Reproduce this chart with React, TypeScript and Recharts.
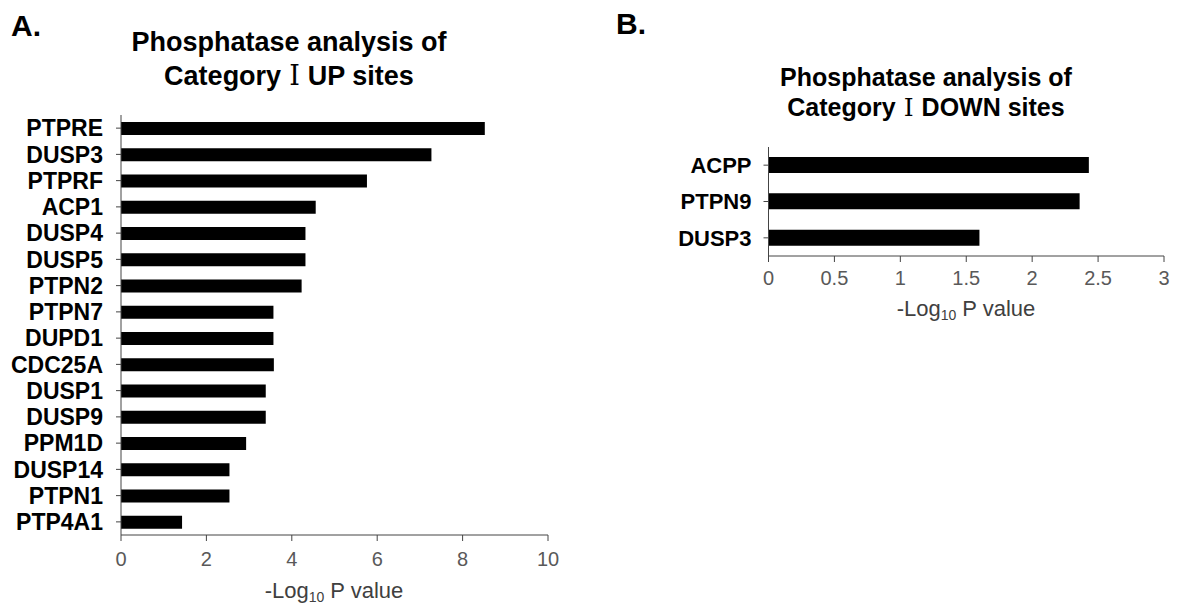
import React from 'react';
import { BarChart, Bar, XAxis, YAxis } from 'recharts';

// Panel A: Category I UP sites
const upGenes = [
  'PTPRE', 'DUSP3', 'PTPRF', 'ACP1', 'DUSP4', 'DUSP5', 'PTPN2', 'PTPN7',
  'DUPD1', 'CDC25A', 'DUSP1', 'DUSP9', 'PPM1D', 'DUSP14', 'PTPN1', 'PTP4A1',
];
const upValues = [8.52, 7.27, 5.76, 4.56, 4.32, 4.32, 4.23, 3.57, 3.57, 3.58, 3.39, 3.39, 2.93, 2.54, 2.54, 1.43];
const upTicks = [0, 2, 4, 6, 8, 10];

// Panel B: Category I DOWN sites
const downGenes = ['ACPP', 'PTPN9', 'DUSP3'];
const downValues = [2.43, 2.36, 1.6];
const downTicks = [0, 0.5, 1, 1.5, 2, 2.5, 3];

const FONT = '"Liberation Sans", Arial, sans-serif';
const AXIS = '#444';

const upData = upGenes.map((name, i) => ({ name, value: upValues[i] }));
const downData = downGenes.map((name, i) => ({ name, value: downValues[i] }));

const abs = (left: number, top: number): React.CSSProperties => ({ position: 'absolute', left, top });

function AxisTitle({ left, top }: { left: number; top: number }) {
  return (
    <div style={{ ...abs(left - 150, top), width: 300, textAlign: 'center', fontSize: 22, lineHeight: '22px', color: '#404040' }}>
      -Log<span style={{ fontSize: 14, verticalAlign: '-4px' }}>10</span> P value
    </div>
  );
}

function Roman() {
  return <span style={{ fontFamily: '"DejaVu Serif", serif', fontWeight: 'normal', margin: '0 8px' }}>Ⅰ</span>;
}

export default function App() {
  return (
    <div style={{ position: 'absolute', left: 0, top: 0, width: 1177, height: 605, fontFamily: FONT, background: '#fff' }}>
      <div style={{ ...abs(0, 0) }}>
        <BarChart width={560} height={605} data={upData} layout="vertical" margin={{ top: 115, right: 12, left: 0, bottom: 0 }} barSize={13}>
          <XAxis
            type="number"
            domain={[0, 10]}
            ticks={upTicks}
            height={70}
            tick={{ fill: '#595959', fontSize: 20, fontFamily: FONT }}
            axisLine={{ stroke: AXIS }}
            tickLine={{ stroke: AXIS }}
            tickSize={6}
            tickMargin={11}
          />
          <YAxis
            type="category"
            dataKey="name"
            width={121}
            tick={{ fill: '#000', fontSize: 23, fontWeight: 'bold', fontFamily: FONT }}
            axisLine={{ stroke: AXIS }}
            tickLine={{ stroke: AXIS }}
            tickSize={5}
            tickMargin={13}
            interval={0}
          />
          <Bar dataKey="value" fill="#000" isAnimationActive={false} />
        </BarChart>
      </div>

      <div style={{ ...abs(600, 0) }}>
        <BarChart width={577} height={350} data={downData} layout="vertical" margin={{ top: 147, right: 13, left: 0, bottom: 24 }} barSize={16}>
          <XAxis
            type="number"
            domain={[0, 3]}
            ticks={downTicks}
            height={70}
            tick={{ fill: '#595959', fontSize: 20, fontFamily: FONT }}
            axisLine={{ stroke: AXIS }}
            tickLine={{ stroke: AXIS }}
            tickSize={6}
            tickMargin={9}
          />
          <YAxis
            type="category"
            dataKey="name"
            width={168.5}
            tick={{ fill: '#000', fontSize: 22, fontWeight: 'bold', fontFamily: FONT }}
            axisLine={{ stroke: AXIS }}
            tickLine={{ stroke: AXIS }}
            tickSize={5}
            tickMargin={12}
            interval={0}
          />
          <Bar dataKey="value" fill="#000" isAnimationActive={false} />
        </BarChart>
      </div>

      <div style={{ ...abs(11, 11), fontSize: 30, fontWeight: 'bold', lineHeight: '30px' }}>A.</div>
      <div style={{ ...abs(616, 9), fontSize: 30, fontWeight: 'bold', lineHeight: '30px' }}>B.</div>

      <div style={{ ...abs(89, 26), width: 400, textAlign: 'center', fontSize: 27, fontWeight: 'bold', lineHeight: '33px' }}>
        Phosphatase analysis of
        <br />
        Category<Roman />UP sites
      </div>
      <div style={{ ...abs(726, 62), width: 400, textAlign: 'center', fontSize: 25, fontWeight: 'bold', lineHeight: '30px' }}>
        Phosphatase analysis of
        <br />
        Category<Roman />DOWN sites
      </div>

      <AxisTitle left={334} top={580} />
      <AxisTitle left={966} top={298} />
    </div>
  );
}
